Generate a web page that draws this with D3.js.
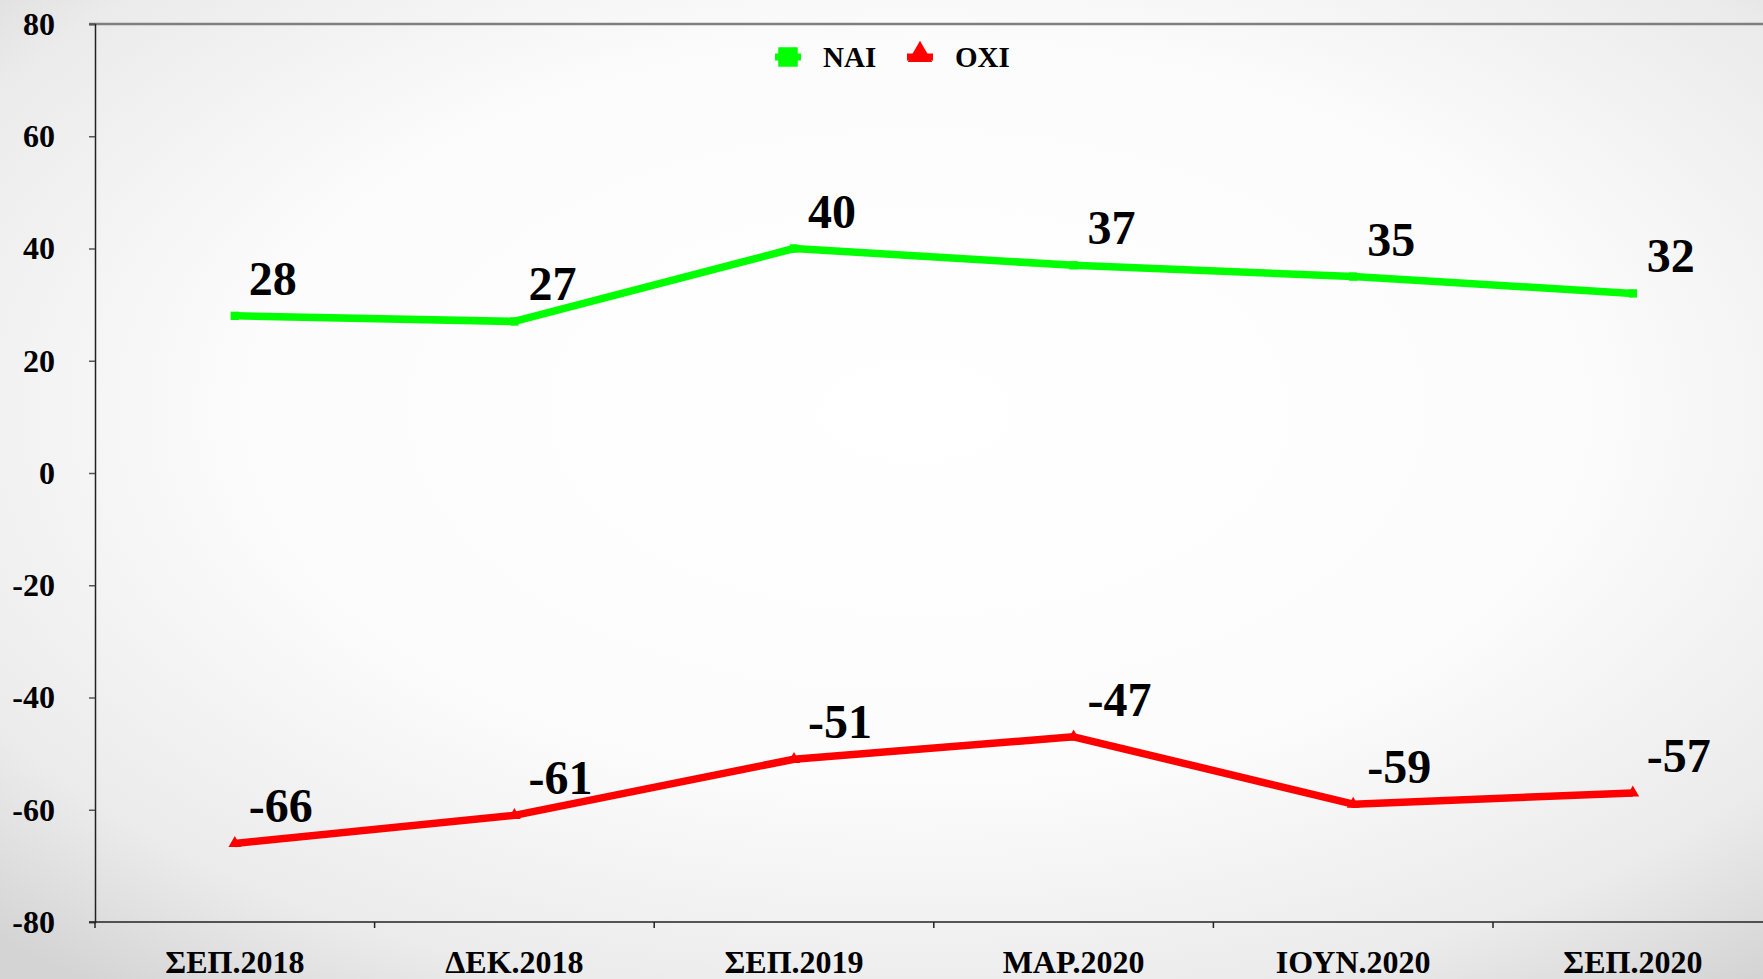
<!DOCTYPE html>
<html>
<head>
<meta charset="utf-8">
<script src="https://cdn.jsdelivr.net/npm/d3@7"></script>
<style>
  body { margin: 0; overflow: hidden; }
  svg text { font-family: "Times New Roman", "Liberation Serif", "DejaVu Serif", serif; font-weight: bold; }
</style>
</head>
<body>
<div id="chart"></div>
<script>
// data
let periods = ["ΣΕΠ.2018", "ΔΕΚ.2018", "ΣΕΠ.2019", "ΜΑΡ.2020", "ΙΟΥΝ.2020", "ΣΕΠ.2020"];
let nai = [28, 27, 40, 37, 35, 32];
let oxi = [-66, -61, -51, -47, -59, -57];
let yTicks = [80, 60, 40, 20, 0, -20, -40, -60, -80];

let width = 1763,
    height = 979,
    margin = {top: 24, bottom: 57, left: 95, right: 0};

// plot runs past the right edge of the window, like the reference
let bandW = 279.6;

let svg = d3.select("#chart")
    .append("svg")
    .attr("width", width)
    .attr("height", height);

// background
let defs = svg.append("defs");
let grad = defs.append("radialGradient")
    .attr("id", "bg")
    .attr("cx", "0.52").attr("cy", "0.42").attr("r", "0.75");
grad.append("stop").attr("offset", "0").attr("stop-color", "#ffffff");
grad.append("stop").attr("offset", "0.5").attr("stop-color", "#fcfcfc");
grad.append("stop").attr("offset", "0.82").attr("stop-color", "#ebebeb");
grad.append("stop").attr("offset", "1").attr("stop-color", "#d4d4d4");
svg.append("rect").attr("width", width).attr("height", height).attr("fill", "url(#bg)");

let x = d3.scaleBand()
    .domain(periods)
    .range([margin.left, margin.left + bandW * periods.length]);

let y = d3.scaleLinear()
    .domain([-80, 80])
    .range([height - margin.bottom, margin.top]);

// top border
svg.append("line")
    .attr("x1", margin.left - 6).attr("x2", width)
    .attr("y1", y(80)).attr("y2", y(80))
    .attr("stroke", "#7f7f7f")
    .attr("stroke-width", 2.5);

// y axis
let yAxis = svg.append("g")
    .attr("transform", "translate(" + margin.left + ",0)")
    .call(d3.axisLeft(y).tickValues(yTicks).tickSize(6).tickPadding(34).tickFormat(d => String(d)));
yAxis.attr("font-family", null);
yAxis.select(".domain").attr("stroke", "#222").attr("stroke-width", 1.5);
yAxis.selectAll(".tick line").attr("stroke", "#555").attr("stroke-width", 1.5);
yAxis.selectAll("text").attr("font-size", 32).attr("fill", "#000");

// x axis
let xAxis = svg.append("g")
    .attr("transform", "translate(0," + y(-80) + ")")
    .call(d3.axisBottom(x).tickSizeOuter(0).tickSize(0));
xAxis.attr("font-family", null);
xAxis.select(".domain").attr("stroke", "#222").attr("stroke-width", 1.5)
    .attr("d", "M" + (margin.left - 6) + ",0H" + width);
xAxis.selectAll(".tick text")
    .attr("y", 51)
    .attr("dy", 0)
    .attr("font-size", 32)
    .attr("fill", "#000");
// category boundary ticks
xAxis.selectAll(".bound")
    .data(periods)
    .enter().append("line")
    .attr("class", "bound")
    .attr("x1", d => x(d)).attr("x2", d => x(d))
    .attr("y1", 0).attr("y2", 6)
    .attr("stroke", "#222").attr("stroke-width", 1.5);

let cx = d => x(d) + x.bandwidth() / 2;

let line = d3.line()
    .x((d, i) => cx(periods[i]))
    .y(d => y(d));

let series = [
    {name: "ΝΑΙ", values: nai, color: "#00ff00", shape: d3.symbolSquare},
    {name: "ΟΧΙ", values: oxi, color: "#ff0000", shape: d3.symbolTriangle}
];

series.forEach(s => {
    svg.append("path")
        .datum(s.values)
        .attr("fill", "none")
        .attr("stroke", s.color)
        .attr("stroke-width", 7.5)
        .attr("stroke-linejoin", "round")
        .attr("d", line);

    svg.selectAll(null)
        .data(s.values)
        .enter().append("path")
        .attr("transform", (d, i) => "translate(" + cx(periods[i]) + "," + y(d) + ")")
        .attr("d", d3.symbol().type(s.shape).size(70))
        .attr("fill", s.color);

    svg.selectAll(null)
        .data(s.values)
        .enter().append("text")
        .attr("x", (d, i) => cx(periods[i]) + 14)
        .attr("y", d => y(d) - 21)
        .attr("font-size", 48)
        .attr("fill", "#000")
        .text(d => d);
});

// legend
let legendX = [788, 920];
series.forEach((s, i) => {
    let g = svg.append("g").attr("transform", "translate(" + legendX[i] + ",57)");
    g.append("line").attr("x1", -13).attr("x2", 13)
        .attr("stroke", s.color).attr("stroke-width", 7);
    g.append("path")
        .attr("d", d3.symbol().type(s.shape).size(i === 0 ? 380 : 260))
        .attr("transform", i === 0 ? null : "translate(0,-2)")
        .attr("fill", s.color);
    g.append("text")
        .attr("x", 35)
        .attr("y", 10)
        .attr("font-size", 29)
        .attr("fill", "#000")
        .text(s.name);
});
</script>
</body>
</html>
